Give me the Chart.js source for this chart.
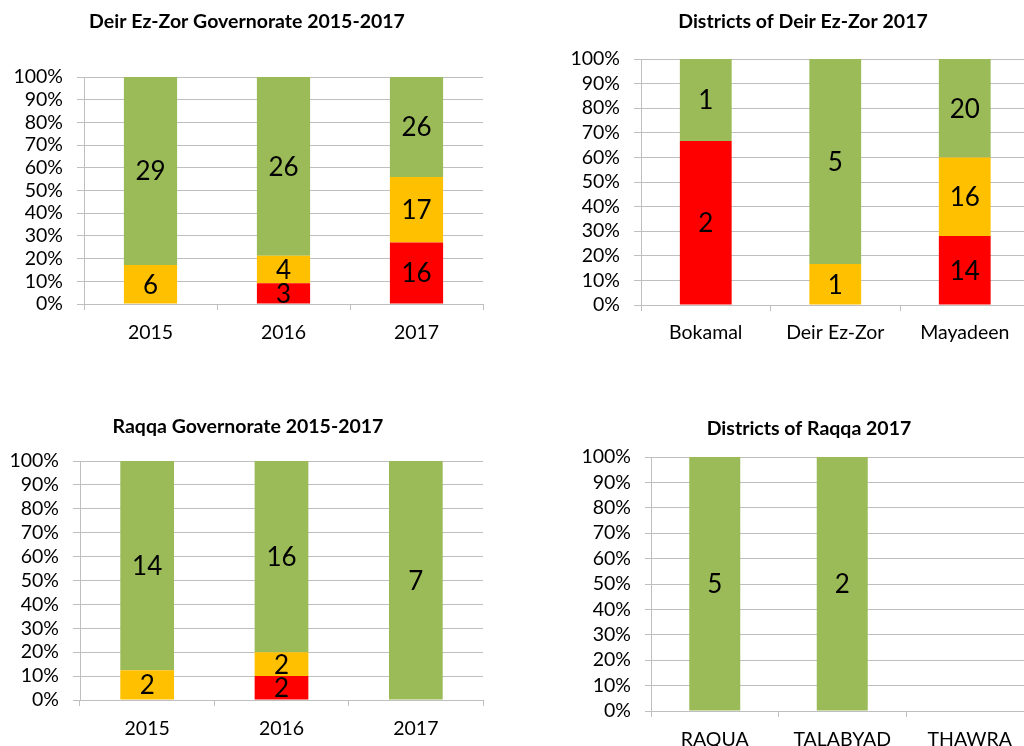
<!DOCTYPE html>
<html>
<head>
<meta charset="utf-8">
<script src="https://cdn.jsdelivr.net/npm/chart.js@4.4.1/dist/chart.umd.min.js"></script>
<style>
	html, body { margin: 0; padding: 0; background: #fff; }
	#page { position: relative; width: 1024px; height: 746px; overflow: hidden; }
	#page canvas { position: absolute; }
</style>
</head>
<body>
<div id="page">
	<canvas id="chart01" width="512" height="373" style="left:0;top:0"></canvas>
	<canvas id="chart02" width="530" height="373" style="left:512px;top:0"></canvas>
	<canvas id="chart03" width="512" height="373" style="left:0;top:373px"></canvas>
	<canvas id="chart04" width="530" height="373" style="left:512px;top:373px"></canvas>
</div>
<script>
// counts per category, stacked red (bottom) / yellow / green (top)
const yearLabels = ["2015", "2016", "2017"];

const deirRed = [0, 3, 16];
const deirYellow = [6, 4, 17];
const deirGreen = [29, 26, 26];

const deirDistricts = ["Bokamal", "Deir Ez-Zor", "Mayadeen"];
const deirDistRed = [2, 0, 14];
const deirDistYellow = [0, 1, 16];
const deirDistGreen = [1, 5, 20];

const raqqaRed = [0, 2, 0];
const raqqaYellow = [2, 2, 0];
const raqqaGreen = [14, 16, 7];

const raqqaDistricts = ["RAQUA", "TALABYAD", "THAWRA"];
const raqqaDistRed = [0, 0, 0];
const raqqaDistYellow = [0, 0, 0];
const raqqaDistGreen = [5, 2, 0];

const percentTicks = [0, 10, 20, 30, 40, 50, 60, 70, 80, 90, 100];

const RED = "#FF0000";
const YELLOW = "#FFC000";
const GREEN = "#9BBB59";
const GRID = "#BFBFBF";
const FONT = "Lato, 'Open Sans', sans-serif";

// prints the count in the middle of each segment
const countLabels = {
	id: "countLabels",
	afterDatasetsDraw(chart) {
		const ctx = chart.ctx;
		ctx.save();
		ctx.font = "26px " + FONT;
		ctx.fillStyle = "#000";
		ctx.textAlign = "center";
		ctx.textBaseline = "middle";
		chart.data.datasets.forEach((ds, i) => {
			chart.getDatasetMeta(i).data.forEach((bar, j) => {
				const count = ds.counts[j];
				if (!count) return;
				const p = bar.getProps(["x", "y", "base"], true);
				ctx.fillText(String(count), p.x, (p.y + p.base) / 2 + 1);
			});
		});
		ctx.restore();
	},
};

function makeChart(id, opts) {
	const totals = opts.labels.map((_, i) => opts.red[i] + opts.yellow[i] + opts.green[i]);
	const pct = (arr) => arr.map((v, i) => (totals[i] ? (v / totals[i]) * 100 : 0));
	const series = [
		[opts.red, RED],
		[opts.yellow, YELLOW],
		[opts.green, GREEN],
	];

	const data = {
		labels: opts.labels,
		datasets: series.map(([arr, color]) => ({
			data: pct(arr),
			counts: arr,
			backgroundColor: color,
			borderWidth: 0,
			categoryPercentage: 1,
			barPercentage: 0.4,
		})),
	};

	const options = {
		responsive: false,
		animation: false,
		layout: {
			padding: { left: opts.padLeft, right: opts.padRight, top: 0, bottom: 0 },
		},
		plugins: {
			legend: { display: false },
			tooltip: { enabled: false },
			title: {
				display: true,
				text: opts.title,
				color: "#000",
				font: { family: FONT, size: 19.5, weight: "bold", lineHeight: 1.2 },
				padding: { top: opts.titleTop, bottom: opts.titleBottom },
			},
		},
		scales: {
			x: {
				stacked: true,
				grid: {
					drawOnChartArea: false,
					drawTicks: true,
					tickLength: 6,
					color: GRID,
				},
				border: { display: true, color: GRID },
				ticks: {
					color: "#000",
					font: { family: FONT, size: 19.5 },
					padding: opts.xPad,
					maxRotation: 0,
					autoSkip: false,
				},
				afterFit: (scale) => {
					scale.height = opts.xHeight;
				},
			},
			y: {
				stacked: true,
				min: 0,
				max: 100,
				afterBuildTicks: (scale) => {
					scale.ticks = percentTicks.map((value) => ({ value }));
				},
				grid: {
					color: GRID,
					drawTicks: true,
					tickLength: opts.yTick,
				},
				border: { display: true, color: GRID },
				ticks: {
					color: "#000",
					font: { family: FONT, size: 19.5 },
					padding: 14,
					autoSkip: false,
					callback: (value) => value + "%",
				},
				afterFit: (scale) => {
					scale.width = opts.yWidth;
				},
			},
			// empty spacer on the right so the title centre lines up
			spacer: {
				type: "linear",
				position: "right",
				display: true,
				grid: { display: false },
				border: { display: false },
				ticks: { display: false },
				afterFit: (scale) => {
					scale.width = opts.spacer;
				},
			},
		},
	};

	return new Chart(document.querySelector(id), {
		type: "bar",
		data,
		options,
		plugins: [countLabels],
	});
}

makeChart("#chart01", {
	title: "Deir Ez-Zor Governorate 2015-2017",
	labels: yearLabels,
	red: deirRed,
	yellow: deirYellow,
	green: deirGreen,
	padLeft: 11,
	padRight: 29,
	spacer: 0,
	yWidth: 73,
	xHeight: 69,
	xPad: 11,
	titleTop: 10.3,
	titleBottom: 43.3,
	yTick: 7,
});

makeChart("#chart02", {
	title: "Districts of Deir Ez-Zor 2017",
	labels: deirDistricts,
	red: deirDistRed,
	yellow: deirDistYellow,
	green: deirDistGreen,
	padLeft: 54,
	padRight: 2,
	spacer: 10.5,
	yWidth: 75,
	xHeight: 68,
	xPad: 10,
	titleTop: 10.3,
	titleBottom: 25.3,
	yTick: 7,
});

makeChart("#chart03", {
	title: "Raqqa Governorate 2015-2017",
	labels: yearLabels,
	red: raqqaRed,
	yellow: raqqaYellow,
	green: raqqaGreen,
	padLeft: 8,
	padRight: 24,
	spacer: 5,
	yWidth: 72,
	xHeight: 46,
	xPad: 11,
	titleTop: 42.3,
	titleBottom: 22.3,
	yTick: 7,
});

makeChart("#chart04", {
	title: "Districts of Raqqa 2017",
	labels: raqqaDistricts,
	red: raqqaDistRed,
	yellow: raqqaDistYellow,
	green: raqqaDistGreen,
	padLeft: 66,
	padRight: 2,
	spacer: 6.5,
	yWidth: 73,
	xHeight: 35,
	xPad: 11,
	titleTop: 44.3,
	titleBottom: 16.3,
	yTick: 6,
});
</script>
</body>
</html>
